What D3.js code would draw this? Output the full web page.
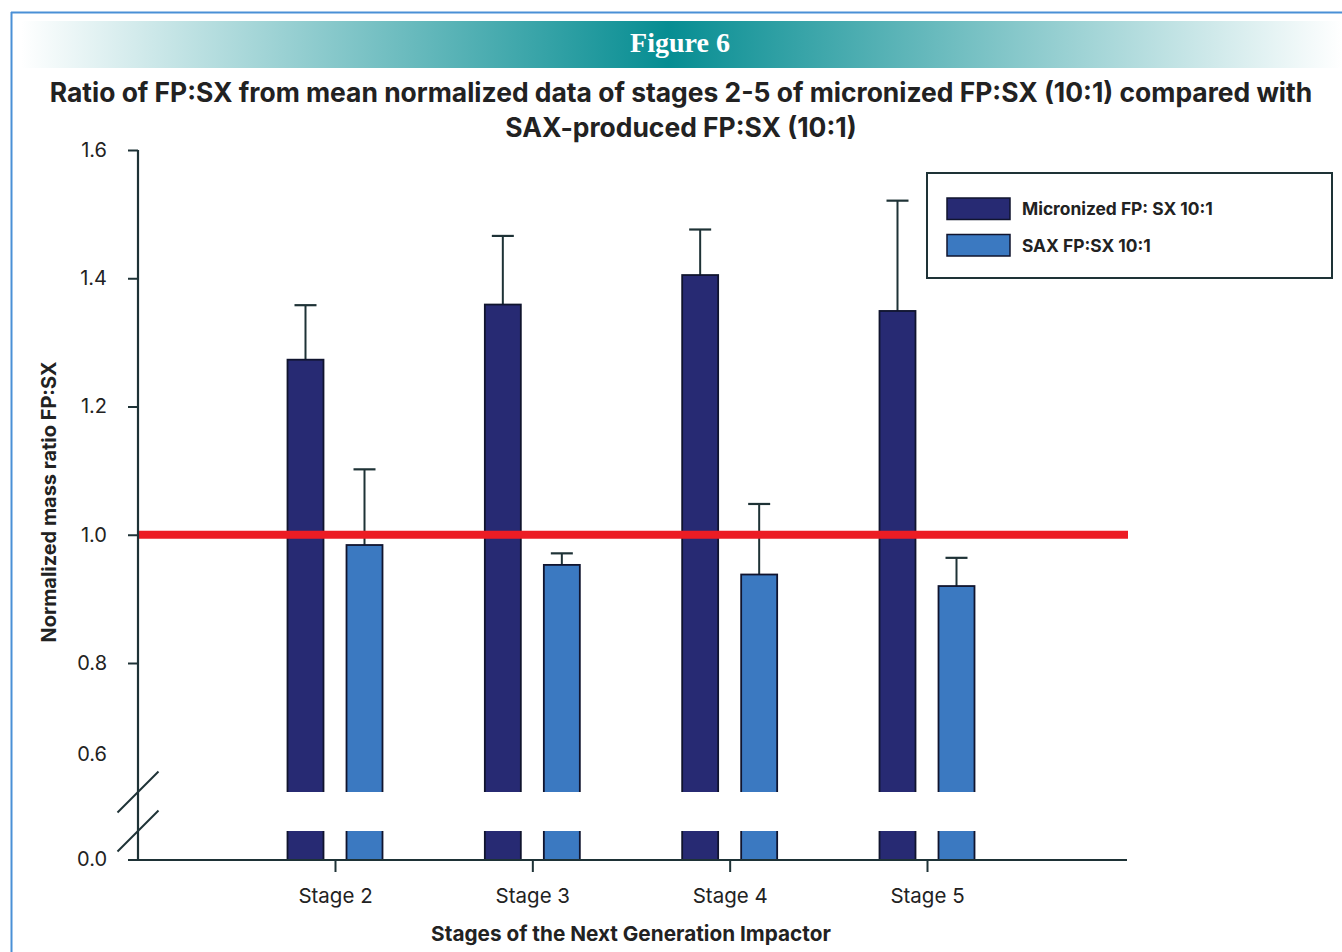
<!DOCTYPE html>
<html>
<head>
<meta charset="utf-8">
<script src="https://cdn.jsdelivr.net/npm/d3@7"></script>
<style>
  html, body { margin: 0; padding: 0; background: #fff; }
  svg { display: block; }
  text { font-family: "Inter", "Noto Sans", sans-serif; fill: #222; }
</style>
</head>
<body>
<svg id="chart" width="1342" height="952"></svg>
<script>
// Stages of the Next Generation Impactor
const stages = ["Stage 2", "Stage 3", "Stage 4", "Stage 5"];
const seriesNames = ["Micronized FP: SX 10:1", "SAX FP:SX 10:1"];
// Mean normalized FP:SX mass ratio
const micronizedMean = [1.273, 1.359, 1.405, 1.349];
const saxMean        = [0.984, 0.953, 0.938, 0.920];
// Upper end of the error bars
const micronizedErrTop = [1.358, 1.466, 1.476, 1.521];
const saxErrTop        = [1.102, 0.971, 1.048, 0.964];
// Axis labels
const yTicks = [0.8, 1.0, 1.2, 1.4, 1.6];
const yBreakLabels = [0.0, 0.6];
const referenceRatio = 1.0;

const colors = ["#272a73", "#3b79c1"];
const axisColor = "#1e3236";

const svg = d3.select("#chart");

// Page frame and header band
svg.append("line").attr("x1", 11).attr("x2", 1342).attr("y1", 12.5).attr("y2", 12.5)
  .attr("stroke", "#4a90d6").attr("stroke-width", 2);
svg.append("line").attr("x1", 11.5).attr("x2", 11.5).attr("y1", 12).attr("y2", 952)
  .attr("stroke", "#4a90d6").attr("stroke-width", 2);

const defs = svg.append("defs");
const grad = defs.append("linearGradient").attr("id", "band").attr("x1", "0").attr("x2", "1");
grad.append("stop").attr("offset", "0").attr("stop-color", "#ffffff");
grad.append("stop").attr("offset", "0.49").attr("stop-color", "#068d92");
grad.append("stop").attr("offset", "1").attr("stop-color", "#ffffff");
svg.append("rect").attr("x", 21).attr("y", 21).attr("width", 1321).attr("height", 47)
  .attr("fill", "url(#band)");
svg.append("text").attr("x", 680).attr("y", 52).attr("text-anchor", "middle")
  .style("font-family", "'Liberation Serif', serif").style("font-weight", "bold")
  .style("font-size", "28px").style("fill", "#fff").text("Figure 6");

// Fit a text element to a target width by adjusting its font size
function fit(sel, width) {
  const node = sel.node();
  const size = parseFloat(sel.style("font-size"));
  const w = node.getComputedTextLength();
  sel.style("font-size", (size * width / w).toFixed(2) + "px");
  return sel;
}

const title1 = svg.append("text").attr("x", 681).attr("y", 102).attr("text-anchor", "middle")
  .style("font-weight", "bold").style("font-size", "24px")
  .text("Ratio of FP:SX from mean normalized data of stages 2-5 of micronized FP:SX (10:1) compared with");
fit(title1, 1263);
const title2 = svg.append("text").attr("x", 681).attr("y", 137).attr("text-anchor", "middle")
  .style("font-weight", "bold").style("font-size", title1.style("font-size"))
  .text("SAX-produced FP:SX (10:1)");

// Scales: the value axis is broken between 0.0 and 0.6
const y = d3.scaleLinear().domain([0, 0.6, 0.8, 1.6]).range([860, 755, 663, 150]);
const breakTop = 792, breakBottom = 831;
const x = d3.scalePoint().domain(stages).range([335, 927]);
const xSub = d3.scaleBand().domain(seriesNames).range([-47.5, 47.5]).paddingInner(0.39);

const rows = stages.map((s, i) => ({
  stage: s,
  values: [
    { series: seriesNames[0], mean: micronizedMean[i], top: micronizedErrTop[i], c: colors[0] },
    { series: seriesNames[1], mean: saxMean[i], top: saxErrTop[i], c: colors[1] }
  ]
}));

const plot = svg.append("g");
const groups = plot.selectAll("g.stage").data(rows).join("g")
  .attr("class", "stage").attr("transform", d => `translate(${x(d.stage)},0)`);

// Error bars (upper whisker only)
groups.selectAll("g.err").data(d => d.values).join("g").attr("class", "err").each(function (d) {
  const cx = xSub(d.series) + xSub.bandwidth() / 2;
  const g = d3.select(this);
  g.append("line").attr("x1", cx).attr("x2", cx).attr("y1", y(d.mean)).attr("y2", y(d.top))
    .attr("stroke", axisColor).attr("stroke-width", 2);
  g.append("line").attr("x1", cx - 11).attr("x2", cx + 11).attr("y1", y(d.top)).attr("y2", y(d.top))
    .attr("stroke", axisColor).attr("stroke-width", 2.2);
});

// Bars
groups.selectAll("rect.bar").data(d => d.values).join("rect").attr("class", "bar")
  .attr("x", d => xSub(d.series))
  .attr("width", xSub.bandwidth())
  .attr("y", d => y(d.mean))
  .attr("height", d => y(0) - y(d.mean))
  .attr("fill", d => d.c)
  .attr("stroke", "#10142e").attr("stroke-width", 1.8);

// Scale break across the bars
plot.append("rect")
  .attr("x", x(stages[0]) - 60).attr("width", x(stages[stages.length - 1]) - x(stages[0]) + 120)
  .attr("y", breakTop).attr("height", breakBottom - breakTop)
  .attr("fill", "#fff");

// Reference line at a ratio of 1.0
plot.append("line").attr("x1", 138).attr("x2", 1128)
  .attr("y1", y(referenceRatio)).attr("y2", y(referenceRatio))
  .attr("stroke", "#ec1c24").attr("stroke-width", 8);

// Y axis
const yAxis = svg.append("g").attr("transform", "translate(138,0)")
  .call(d3.axisLeft(y).tickValues(yTicks).tickSize(10).tickPadding(21)
    .tickFormat(d3.format(".1f")));
yAxis.select(".domain").remove();
yAxis.append("line").attr("x1", 0).attr("x2", 0).attr("y1", y(1.6)).attr("y2", y(0))
  .attr("stroke", axisColor).attr("stroke-width", 2.2);
yAxis.selectAll(".tick line").attr("stroke", axisColor).attr("stroke-width", 2);
yAxis.selectAll(".tick text").style("font-size", "20px").style("font-family", "'Inter', sans-serif")
  .attr("fill", "#333");
yAxis.selectAll("text.brk").data(yBreakLabels).join("text").attr("class", "brk")
  .attr("x", -31).attr("y", d => y(d)).attr("dy", "0.32em").attr("text-anchor", "end")
  .style("font-size", "20px").attr("fill", "#333").text(d3.format(".1f"));

// Break marks on the value axis
[breakTop, breakBottom].forEach(by => {
  svg.append("line").attr("x1", 138 - 20.5).attr("x2", 138 + 20.5)
    .attr("y1", by + 20.5).attr("y2", by - 20.5)
    .attr("stroke", axisColor).attr("stroke-width", 2);
});

// X axis
const xAxis = svg.append("g").attr("transform", `translate(0,${y(0)})`)
  .call(d3.axisBottom(x).tickSize(12).tickPadding(16));
xAxis.select(".domain").remove();
xAxis.append("line").attr("x1", 128).attr("x2", 1127).attr("y1", 0).attr("y2", 0)
  .attr("stroke", axisColor).attr("stroke-width", 2.2);
xAxis.selectAll(".tick line").attr("stroke", axisColor).attr("stroke-width", 2);
xAxis.selectAll(".tick text").style("font-size", "20.5px").style("font-family", "'Inter', sans-serif")
  .attr("fill", "#333");

// Axis titles
const xTitle = svg.append("text").attr("x", 631).attr("y", 941).attr("text-anchor", "middle")
  .style("font-weight", "bold").style("font-size", "20px")
  .text("Stages of the Next Generation Impactor");
fit(xTitle, 400);
const yTitle = svg.append("text").attr("transform", "translate(56,502) rotate(-90)")
  .attr("text-anchor", "middle").style("font-weight", "bold").style("font-size", "20px")
  .text("Normalized mass ratio FP:SX");
fit(yTitle, 281);

// Legend
const legend = svg.append("g").attr("transform", "translate(927,173)");
legend.append("rect").attr("width", 405).attr("height", 105)
  .attr("fill", "#fff").attr("stroke", axisColor).attr("stroke-width", 2);
const items = legend.selectAll("g.item").data(seriesNames).join("g").attr("class", "item")
  .attr("transform", (d, i) => `translate(20,${25 + i * 36.5})`);
items.append("rect").attr("width", 63).attr("height", 21.5)
  .attr("fill", (d, i) => colors[i]).attr("stroke", "#10142e").attr("stroke-width", 1.5);
const legendTexts = items.append("text").attr("x", 75).attr("y", 11).attr("dy", "0.36em")
  .style("font-weight", "bold").style("font-size", "20px").text(d => d);
fit(d3.select(legendTexts.nodes()[0]), 191);
d3.select(legendTexts.nodes()[1]).style("font-size", d3.select(legendTexts.nodes()[0]).style("font-size"));
</script>
</body>
</html>
